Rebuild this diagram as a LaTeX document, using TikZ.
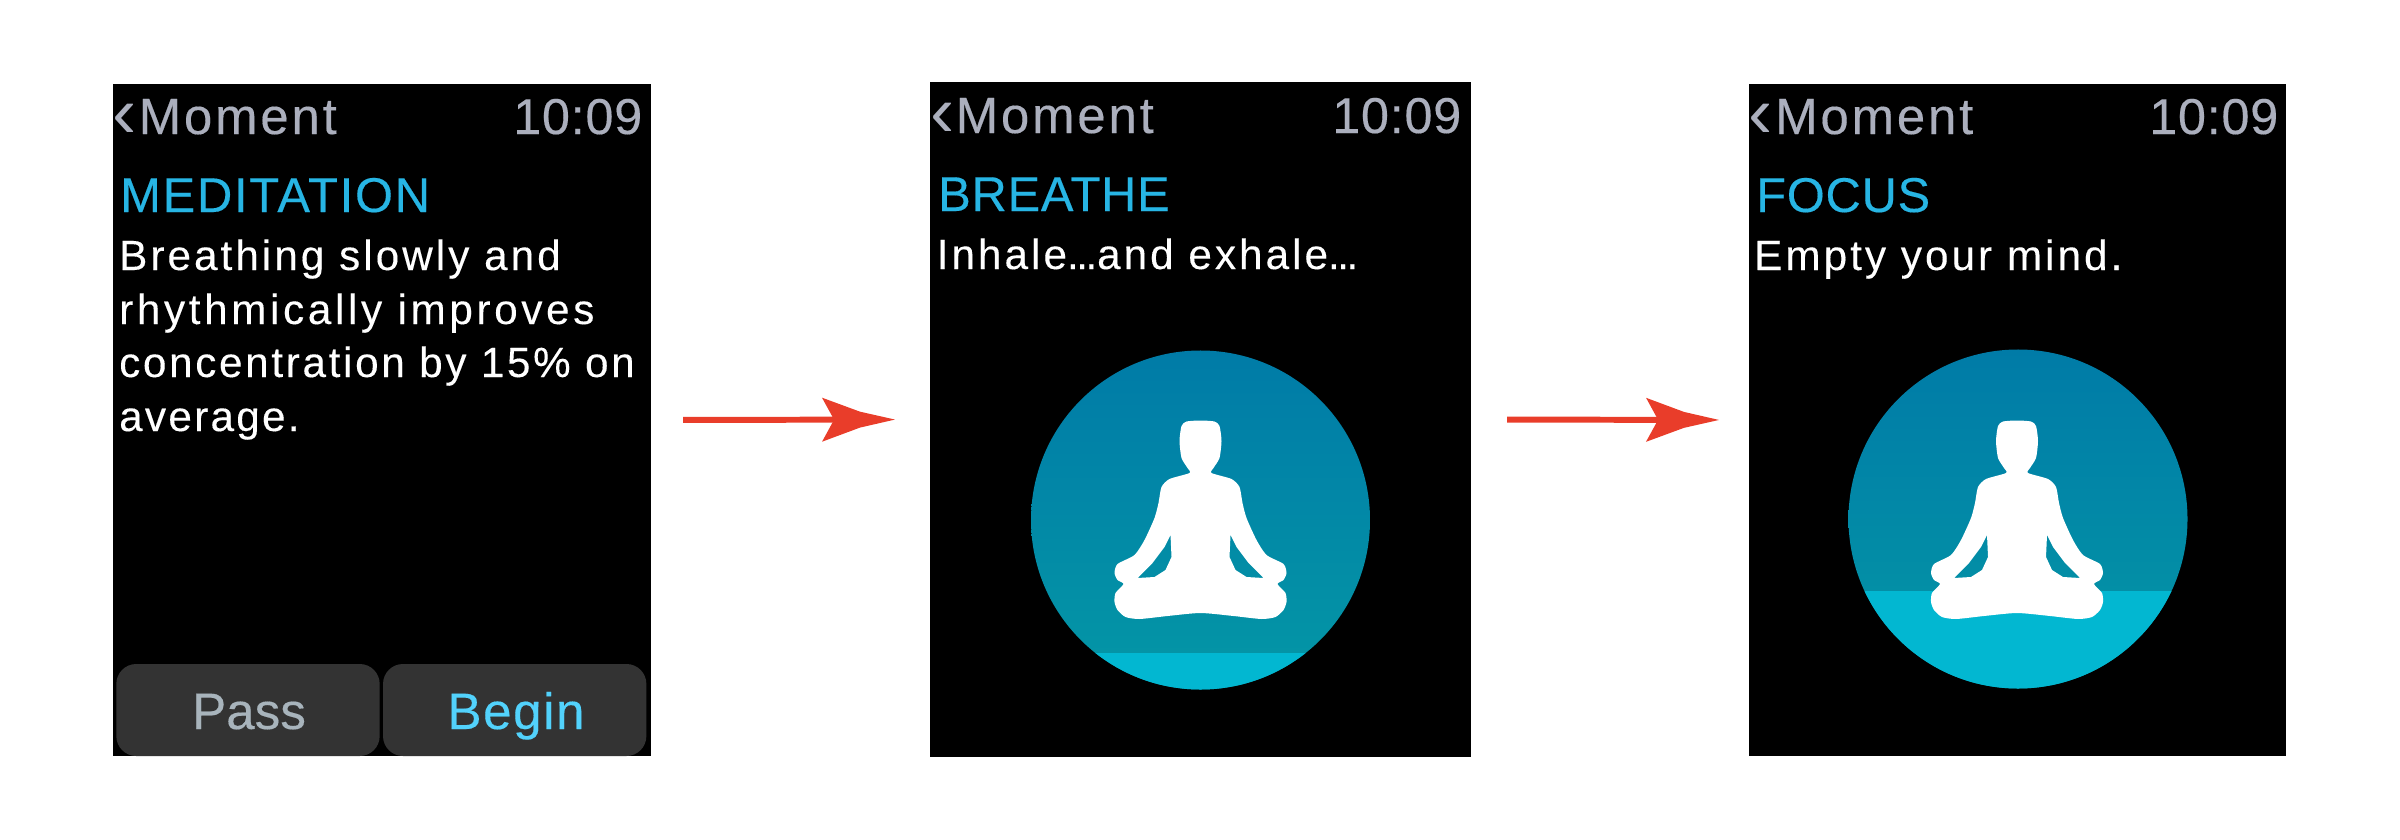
\documentclass[tikz,border=0pt]{standalone}
\usepackage{fontspec}
\setmainfont{Liberation Sans}
\usetikzlibrary{positioning}
\definecolor{skytop}{HTML}{007BA7}
\definecolor{skybottom}{HTML}{0497A6}
\definecolor{waterblue}{HTML}{02B7D1}
\definecolor{headblue}{HTML}{27B5E4}
\definecolor{clockgrey}{HTML}{ABAFBD}
\definecolor{passgrey}{HTML}{A8B4BC}
\definecolor{beginblue}{HTML}{52D2FC}
\definecolor{buttongrey}{HTML}{333333}
\definecolor{arrowred}{HTML}{E93D2A}
\pgfarrowsdeclare{flowtip}{flowtip}
{\pgfarrowsleftextend{-15.4pt}\pgfarrowsrightextend{46.9pt}}
{\pgfpathmoveto{\pgfpoint{46.9pt}{0pt}}
 \pgfpathlineto{\pgfpoint{17pt}{6.8pt}}
 \pgfpathlineto{\pgfpoint{-15.4pt}{18.8pt}}
 \pgfpathlineto{\pgfpoint{-5.1pt}{0pt}}
 \pgfpathlineto{\pgfpoint{-15.4pt}{-18.8pt}}
 \pgfpathlineto{\pgfpoint{17pt}{-6.8pt}}
 \pgfpathclose
 \pgfusepathqfill}
\tikzset{
  screen/.style={fill=black,inner sep=0pt,outer sep=0pt},
  label/.style={anchor=base west,inner sep=0pt},
  navtext/.style={label,text=clockgrey,font=\fontsize{43.5}{48}\selectfont\addfontfeature{LetterSpace=5.5,FakeBold=0.3}},
  clocktext/.style={label,text=clockgrey,font=\fontsize{43}{48}\selectfont\addfontfeature{LetterSpace=1.5,FakeBold=0.3}},
  chevron/.style={label,text=clockgrey,font=\fontsize{62}{62}\selectfont},
  titletext/.style={label,text=headblue,font=\fontsize{41.7}{48}\selectfont\addfontfeature{LetterSpace=1.5,FakeBold=0.3}},
  bodytext/.style={label,text=white,font=\fontsize{36}{40}\selectfont\addfontfeature{LetterSpace=7.3,FakeBold=0.2}},
  button/.style={fill=buttongrey,rounded corners=17pt,inner sep=0pt,outer sep=0pt,
    minimum height=2.76cm,minimum width=7.9cm},
  buttontext/.style={anchor=base,inner sep=0pt,font=\fontsize{43.7}{48}\selectfont\addfontfeature{FakeBold=0.3}},
  disc/.style={circle,inner sep=0pt,minimum size=10.17cm,top color=skytop,bottom color=skybottom,
    path picture={\fill[waterblue] (-180,#1) rectangle (180,180);}},
  flow/.style={arrowred,line width=5.1pt,-flowtip},
  person/.pic={
    \fill[white,even odd rule]
      plot[smooth cycle,tension=.4] coordinates {
        (0,-99.5) (14,-98.5) (19,-94) (21,-79) (19,-62) (13,-52) (11,-47) (31,-41) (39,-33) (42,-17)
        (46,-2) (56,20) (66,35) (83,44) (86,53) (83,60) (77,64) (85,73) (86,82) (83,90) (75,97)
        (61,99) (33,96) (0,93) (-33,96) (-61,99) (-75,97) (-83,90) (-86,82) (-85,73) (-77,64)
        (-83,60) (-86,53) (-83,44) (-66,35) (-56,20) (-46,-2) (-42,-17) (-39,-33) (-31,-41)
        (-11,-47) (-13,-52) (-19,-62) (-21,-79) (-19,-94) (-14,-98.5)}
      plot[sharp cycle] coordinates {(-30,15) (-29,37) (-35,50) (-46,57) (-63,58) (-48,43) (-36,27)}
      plot[sharp cycle] coordinates {(30,15) (29,37) (35,50) (46,57) (63,58) (48,43) (36,27)};
  }
}
\newcommand{\tightdots}{{\addfontfeature{LetterSpace=-6,FakeBold=0.2}...}}
\begin{document}
\begin{tikzpicture}[x=0.03cm,y=-0.03cm]
\useasboundingbox (0,0) rectangle (2400,840);
% screens
\node[screen,minimum width=16.14cm,minimum height=20.16cm] (screenA) at (382,420) {};
\node[screen,minimum width=16.23cm,minimum height=20.25cm] (screenB) at (1200.5,419.5) {};
\node[screen,minimum width=16.11cm,minimum height=20.16cm] (screenC) at (2017.5,420) {};
% first screen
\node[chevron] (backA) at (112,137) {‹};
\node[navtext] (momentA) at (138.5,134) {Moment};
\node[clocktext] (timeA) at (513,134) {10:09};
\node[titletext] (titleA) at (120,212) {\addfontfeature{LetterSpace=3.6,FakeBold=0.3}MEDITATION};
\node[bodytext] (lineAa) at (119,270) {Breathing slowly and};
\node[bodytext] (lineAb) at (119,324) {\addfontfeature{LetterSpace=8.7,FakeBold=0.2}rhythmically improves};
\node[bodytext] (lineAc) at (119,377) {\addfontfeature{LetterSpace=6.4,FakeBold=0.2}concentration by 15\% on};
\node[bodytext] (lineAd) at (119,431) {\addfontfeature{LetterSpace=5.5,FakeBold=0.2}average.};
\node[button] (passbtn) at (248,710) {};
\node[button] (beginbtn) at (514.7,710) {};
\node[buttontext,text=passgrey] (passtext) at (249,729) {Pass};
\node[buttontext,text=beginblue] (begintext) at (516,729) {\addfontfeature{LetterSpace=3,FakeBold=0.3}Begin};
% second screen
\node[chevron] (backB) at (930,136) {‹};
\node[navtext] (momentB) at (955.5,133) {Moment};
\node[clocktext] (timeB) at (1332,133) {10:09};
\node[titletext] (titleB) at (938,211) {BREATHE};
\node[bodytext] (lineB) at (936.5,269) {Inhale\tightdots and exhale\tightdots};
\node[disc=133] (discB) at (1200.5,520) {};
\pic at (discB) {person};
% third screen
\node[chevron] (backC) at (1748,137) {‹};
\node[navtext] (momentC) at (1775,134) {Moment};
\node[clocktext] (timeC) at (2149,134) {10:09};
\node[titletext] (titleC) at (1756,212) {FOCUS};
\node[bodytext] (lineC) at (1754,270) {Empty your mind.};
\node[disc=72] (discC) at (2018,519) {};
\pic at (2017,520) {person};
% arrows
\draw[flow,shorten <=0.96cm,shorten >=1.05cm] (screenA.east) -- (screenB.west);
\draw[flow,shorten <=1.08cm,shorten >=0.9cm] (screenB.east) -- (screenC.west);
\end{tikzpicture}
\end{document}
